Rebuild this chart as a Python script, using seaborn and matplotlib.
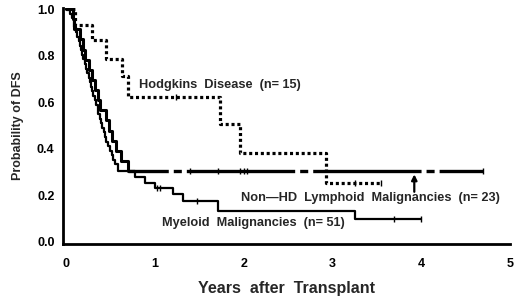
import matplotlib
matplotlib.use('Agg')
import matplotlib.pyplot as plt
import seaborn as sns
import pandas as pd

# --- data (years, probability of DFS) ---
hd_t = [0.0, 0.10, 0.29, 0.45, 0.63, 0.69, 1.73, 1.96, 2.92, 3.54]
hd_p = [1.0, 0.933, 0.867, 0.787, 0.713, 0.622, 0.508, 0.381, 0.254, 0.254]
hd_cens_t = [1.24, 3.25, 3.54]
hd_cens_p = [0.622, 0.254, 0.254]

nhd_t = [0.0, 0.07, 0.09, 0.15, 0.19, 0.21, 0.25, 0.29, 0.32, 0.35, 0.38,
         0.44, 0.48, 0.51, 0.56, 0.62, 0.69, 4.69]
nhd_p = [1.0, 0.957, 0.913, 0.870, 0.826, 0.783, 0.739, 0.696, 0.652, 0.609,
         0.565, 0.522, 0.478, 0.435, 0.391, 0.348, 0.304, 0.304]
nhd_cens_t = [1.39, 1.71, 1.96, 2.00, 2.04, 4.69]
nhd_cens_p = [0.304, 0.304, 0.304, 0.304, 0.304, 0.304]

my_t = [0.0, 0.04, 0.06, 0.08, 0.09, 0.11, 0.12, 0.14, 0.15, 0.16, 0.18,
        0.19, 0.21, 0.22, 0.23, 0.25, 0.26, 0.28, 0.29, 0.30, 0.32, 0.33,
        0.35, 0.36, 0.38, 0.39, 0.40, 0.42, 0.43, 0.45, 0.47, 0.49, 0.51,
        0.53, 0.55, 0.58, 0.77, 0.88, 1.00, 1.20, 1.31, 1.71, 3.25, 3.99]
my_p = [1.0, 0.980, 0.961, 0.941, 0.922, 0.902, 0.882, 0.863, 0.843, 0.824,
        0.804, 0.784, 0.765, 0.745, 0.725, 0.706, 0.686, 0.667, 0.647, 0.627,
        0.608, 0.588, 0.569, 0.549, 0.529, 0.510, 0.490, 0.471, 0.451, 0.431,
        0.412, 0.392, 0.373, 0.353, 0.333, 0.305, 0.280, 0.254, 0.232, 0.205,
        0.176, 0.133, 0.097, 0.097]
my_cens_t = [1.02, 1.05, 1.47, 3.69, 3.99]
my_cens_p = [0.232, 0.232, 0.176, 0.097, 0.097]

x_ticks = [0, 1, 2, 3, 4, 5]
y_ticks = [0.0, 0.2, 0.4, 0.6, 0.8, 1.0]

sns.set_theme(style='white')
plt.rcParams['font.family'] = ['Liberation Sans', 'DejaVu Sans']
plt.rcParams['font.weight'] = 'bold'
plt.rcParams['lines.scale_dashes'] = False

fig = plt.figure(figsize=(5.2, 2.97), dpi=100)
ax = fig.add_axes([0.121, 0.178, 0.860, 0.795])

hd = pd.DataFrame({'t': hd_t, 'p': hd_p})
nhd = pd.DataFrame({'t': nhd_t, 'p': nhd_p})
my = pd.DataFrame({'t': my_t, 'p': my_p})

sns.lineplot(data=my, x='t', y='p', ax=ax, estimator=None, sort=False,
             drawstyle='steps-post', color='black', lw=1.6)
# non-HD: steep part drawn solid, the long plateau in the long-short dash
sns.lineplot(data=nhd.iloc[:-1], x='t', y='p', ax=ax, estimator=None, sort=False,
             drawstyle='steps-post', color='black', lw=2.2)
sns.lineplot(data=nhd.iloc[-2:], x='t', y='p', ax=ax, estimator=None, sort=False,
             drawstyle='steps-post', color='black', lw=2.4,
             linestyle=(49, (78, 3.6, 5.8, 3.6)))
sns.lineplot(data=hd, x='t', y='p', ax=ax, estimator=None, sort=False,
             drawstyle='steps-post', color='black', lw=2.3,
             linestyle=(0, (2.2, 2.0)))

# censoring ticks
for ct, cp in [(hd_cens_t, hd_cens_p), (nhd_cens_t, nhd_cens_p), (my_cens_t, my_cens_p)]:
    ax.plot(ct, cp, ls='none', marker='|', ms=4, mew=1.0, color='black')

ax.text(0.82, 0.675, 'Hodgkins  Disease  (n= 15)', fontsize=9.2, fontweight='bold',
        va='center', ha='left')
ax.text(1.97, 0.19, 'Non\u2014HD  Lymphoid  Malignancies  (n= 23)', fontsize=9.2,
        fontweight='bold', va='center', ha='left')
ax.text(1.08, 0.08, 'Myeloid  Malignancies  (n= 51)', fontsize=9.2,
        fontweight='bold', va='center', ha='left')
ax.annotate('', xy=(3.92, 0.29), xytext=(3.92, 0.215),
            arrowprops=dict(arrowstyle='-|>', color='black', lw=1.6,
                            mutation_scale=8, shrinkA=0, shrinkB=0))

ax.set_xlim(-0.04, 5.0)
ax.set_ylim(-0.01, 1.005)
ax.set_xticks(x_ticks)
ax.set_xticklabels([str(v) for v in x_ticks])
ax.set_yticks(y_ticks)
ax.set_yticklabels([f'{v:.1f}' for v in y_ticks])
ax.tick_params(axis='both', direction='out', length=4, width=1.5,
               labelsize=9, color='black', labelcolor='black')
ax.tick_params(axis='x', pad=6)
ax.tick_params(axis='y', pad=2)
ax.set_xlabel('Years  after  Transplant', fontsize=11.5, fontweight='bold', labelpad=8)
ax.set_ylabel('Probability of DFS', fontsize=9, fontweight='bold', labelpad=9)

sns.despine(ax=ax)
for s in ['left', 'bottom']:
    ax.spines[s].set_linewidth(2.0)
    ax.spines[s].set_color('black')

fig.savefig('out.png', dpi=100)
